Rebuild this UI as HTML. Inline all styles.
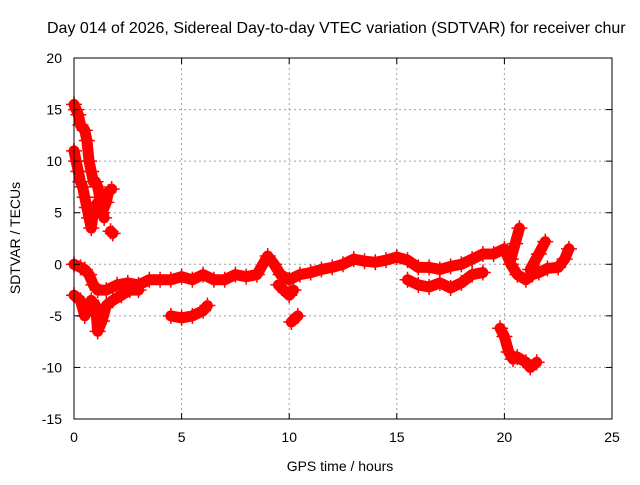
<!DOCTYPE html>
<html><head><meta charset="utf-8"><style>
body{margin:0;background:#fff;}
svg text{font-family:"Liberation Sans",sans-serif;font-size:14px;fill:#000;}
</style></head><body>
<svg id="c" width="640" height="480">
<text x="47" y="33" style="font-size:16px">Day 014 of 2026, Sidereal Day-to-day VTEC variation (SDTVAR) for receiver chur</text>
<g id="grid"></g><g id="data"></g><g id="axes"></g>
<text x="340" y="471" text-anchor="middle">GPS time / hours</text>
<text transform="translate(20,238) rotate(-90)" text-anchor="middle">SDTVAR / TECUs</text>
</svg>
<script>
const xTicks=[0,5,10,15,20,25];
const yTicks=[20,15,10,5,0,-5,-10,-15];
const trackA=[[0,15.5],[0.1,15],[0.2,14.5],[0.3,13.5],[0.5,13],[0.6,12],[0.7,10],[0.8,9],[0.9,8],[1.0,8],[1.1,7.5],[1.2,6.5],[1.3,5.5],[1.4,4.5]];
const trackB=[[0,11],[0.1,10],[0.2,9],[0.3,8],[0.4,7.5],[0.5,6.5],[0.6,5.5],[0.7,4.5],[0.8,3.5],[0.9,5],[1.0,5.5],[1.1,6],[1.3,5],[1.5,6],[1.6,7],[1.75,7.3]];
const trackB2=[[1.7,3.2],[1.8,3.0]];
const mainBand=[[0,0],[0.3,-0.3],[0.5,-0.5],[0.7,-1],[0.9,-2],[1.1,-2.5],[1.5,-2.5],[2,-2],[2.5,-1.8],[3,-2],[3.5,-1.5],[4,-1.5],[4.5,-1.5],[5,-1.2],[5.5,-1.5],[6,-1],[6.5,-1.5],[7,-1.5],[7.5,-1],[8,-1.2],[8.5,-1],[9,0.8],[9.3,0],[9.6,-1],[10,-1.5],[10.5,-1],[11,-0.8],[11.5,-0.5],[12,-0.3],[12.5,0],[13,0.5],[13.5,0.3],[14,0.2],[14.5,0.4],[15,0.7],[15.5,0.4],[16,-0.3],[16.5,-0.3],[17,-0.5],[17.5,-0.2],[18,0],[18.5,0.5],[19,1],[19.5,1],[20,1.5],[20.3,0],[20.6,-1],[21,-1.5],[21.3,-1],[21.6,-0.8],[22,-0.4],[22.5,-0.3],[22.8,0.5],[23,1.5]];
const lowerStart=[[0,-3],[0.3,-3.5],[0.5,-5],[0.8,-3.5],[1,-4],[1.1,-6.5],[1.3,-5.5],[1.5,-4],[1.8,-3.5],[2.2,-3],[2.6,-2.5],[3,-2.5]];
const branch5=[[4.5,-5],[5,-5.2],[5.5,-5],[6,-4.5],[6.2,-4]];
const branch10=[[9.5,-2],[10,-3],[10.2,-2.5]];
const branch10b=[[10.1,-5.6],[10.4,-5]];
const branch17=[[15.5,-1.5],[16,-2.0],[16.5,-2.2],[17,-1.8],[17.5,-2.3],[18,-1.8],[18.5,-1.0],[19,-0.8]];
const late=[[19.8,-6.2],[20,-7],[20.2,-8.5],[20.4,-9.2],[20.6,-9],[21,-9.5],[21.2,-10],[21.5,-9.5]];
const spike1=[[20.3,0.5],[20.5,2],[20.7,3.5]];
const spike2=[[21.2,-0.5],[21.6,1],[21.9,2.2]];
const series=[trackA,trackB,trackB2,mainBand,lowerStart,branch5,branch10,branch10b,branch17,late,spike1,spike2];
const X=v=>74+v*(612-74)/25, Y=v=>58+(20-v)*(419-58)/35;
const NS='http://www.w3.org/2000/svg';
function mk(t,a,p){const e=document.createElementNS(NS,t);for(const k in a)e.setAttribute(k,a[k]);p.appendChild(e);return e;}
const g=document.getElementById('grid'),ax=document.getElementById('axes'),d=document.getElementById('data');
xTicks.forEach(t=>{
 if(t>0&&t<25){const l=mk('line',{x1:X(t),x2:X(t),y1:58,y2:419,stroke:'#a0a0a0','stroke-dasharray':'2,3'},g);
 }
 const tx=mk('text',{x:X(t),y:442,'text-anchor':'middle'},ax);tx.textContent=t;
 
 mk('line',{x1:X(t),x2:X(t),y1:419,y2:413,stroke:'#000'},ax);mk('line',{x1:X(t),x2:X(t),y1:58,y2:64,stroke:'#000'},ax);
});
yTicks.forEach(t=>{
 if(t<20&&t>-15){const l=mk('line',{x1:74,x2:612,y1:Y(t),y2:Y(t),stroke:'#a0a0a0','stroke-dasharray':'2,3'},g);
 }
 const tx=mk('text',{x:62,y:Y(t)+5,'text-anchor':'end'},ax);tx.textContent=t;
 
 mk('line',{x1:74,x2:80,y1:Y(t),y2:Y(t),stroke:'#000'},ax);mk('line',{x1:612,x2:606,y1:Y(t),y2:Y(t),stroke:'#000'},ax);
});
const fr=mk('rect',{x:74,y:58,width:538,height:361,fill:'none',stroke:'#000'},ax);

series.forEach(s=>{
 const pl=mk('polyline',{points:s.map(p=>X(p[0])+','+Y(p[1])).join(' '),fill:'none',stroke:'#f00','stroke-width':11,'stroke-linejoin':'round','stroke-linecap':'round'},d);
 
 s.forEach(p=>{const x=X(p[0]),y=Y(p[1]);
  const m=mk('path',{d:`M${x-8},${y}h16M${x},${y-8}v16`,stroke:'#f00','stroke-width':1.5},d);
  });
});
</script>
</body></html>
